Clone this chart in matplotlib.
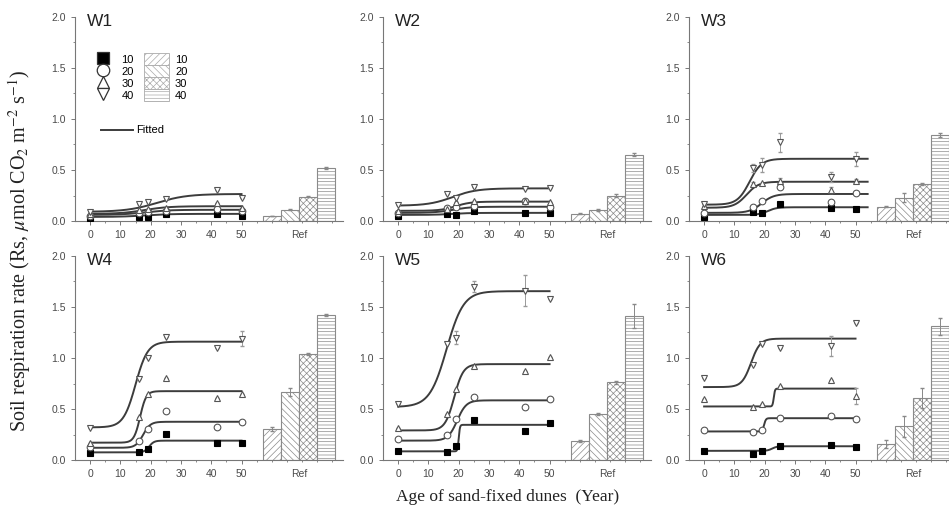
import matplotlib.pyplot as plt
import matplotlib.lines as mlines
import matplotlib.patches as mpatches
import numpy as np

# ages of the sand-fixed dunes (years) and soil depths (cm)
ages = [0, 16, 19, 25, 42, 50]
depths = ['10', '20', '30', '40']

# measured Rs per depth: rows are 10, 20, 30, 40 cm
w1_rs = [[0.03, 0.04, 0.04, 0.07, 0.07, 0.05],
         [0.05, 0.08, 0.09, 0.10, 0.12, 0.10],
         [0.07, 0.11, 0.12, 0.13, 0.18, 0.13],
         [0.09, 0.17, 0.19, 0.22, 0.30, 0.23]]
w2_rs = [[0.05, 0.07, 0.06, 0.10, 0.08, 0.08],
         [0.08, 0.13, 0.14, 0.15, 0.20, 0.14],
         [0.10, 0.12, 0.19, 0.20, 0.20, 0.19],
         [0.16, 0.26, 0.23, 0.33, 0.31, 0.32]]
w3_rs = [[0.04, 0.09, 0.08, 0.17, 0.13, 0.12],
         [0.08, 0.14, 0.20, 0.33, 0.19, 0.27],
         [0.15, 0.36, 0.37, 0.39, 0.30, 0.39],
         [0.17, 0.52, 0.55, 0.77, 0.43, 0.61]]
w4_rs = [[0.07, 0.08, 0.11, 0.26, 0.17, 0.17],
         [0.13, 0.19, 0.30, 0.48, 0.32, 0.37],
         [0.17, 0.42, 0.65, 0.80, 0.61, 0.65],
         [0.31, 0.79, 1.00, 1.21, 1.10, 1.19]]
w5_rs = [[0.09, 0.08, 0.14, 0.39, 0.28, 0.36],
         [0.21, 0.25, 0.40, 0.62, 0.52, 0.60],
         [0.31, 0.45, 0.70, 0.92, 0.87, 1.01],
         [0.55, 1.14, 1.20, 1.70, 1.66, 1.58]]
w6_rs = [[0.09, 0.06, 0.09, 0.14, 0.15, 0.13],
         [0.29, 0.27, 0.29, 0.41, 0.43, 0.40],
         [0.60, 0.52, 0.55, 0.73, 0.78, 0.63],
         [0.80, 0.93, 1.14, 1.10, 1.12, 1.34]]

# standard errors of the measured points
no_err = [0, 0, 0, 0, 0, 0]
w3_err = [no_err, no_err, [0, 0.02, 0, 0.03, 0.03, 0.02], [0, 0.04, 0.07, 0.09, 0.05, 0.07]]
w4_err = [no_err, no_err, no_err, [0, 0, 0, 0, 0, 0.07]]
w5_err = [no_err, no_err, no_err, [0, 0, 0.06, 0.05, 0.15, 0]]
w6_err = [no_err, no_err, [0, 0, 0, 0, 0, 0.08], [0, 0, 0, 0, 0.10, 0]]
zero_err = [no_err] * 4

# fitted sigmoid curves: [base, top, midpoint, width] per depth
w1_fit = [[0.04, 0.07, 18, 4], [0.06, 0.11, 18, 4], [0.07, 0.145, 18, 4], [0.09, 0.265, 22, 5]]
w2_fit = [[0.06, 0.08, 18, 3], [0.08, 0.14, 18, 3], [0.10, 0.19, 19, 2.5], [0.15, 0.32, 18, 4]]
w3_fit = [[0.06, 0.135, 21, 1.5], [0.08, 0.265, 19, 2], [0.13, 0.385, 14, 2], [0.16, 0.61, 15, 2]]
w4_fit = [[0.075, 0.19, 19.5, 0.8], [0.12, 0.375, 17.5, 1.2], [0.17, 0.675, 16.5, 1.0], [0.32, 1.16, 15, 2]]
w5_fit = [[0.085, 0.345, 20, 0.2], [0.19, 0.585, 19.5, 1.5], [0.29, 0.94, 18.5, 1.5], [0.52, 1.655, 16, 2.8]]
w6_fit = [[0.09, 0.135, 22.5, 0.8], [0.28, 0.41, 19.8, 0.3], [0.525, 0.70, 23, 0.2], [0.715, 1.19, 15.5, 1.5]]
fit_end = [50, 50, 54, 50, 50, 50]

# reference sites (bars) per depth and their errors
w1_ref = [0.05, 0.11, 0.24, 0.52]
w2_ref = [0.07, 0.11, 0.25, 0.65]
w3_ref = [0.14, 0.23, 0.36, 0.84]
w4_ref = [0.30, 0.67, 1.04, 1.42]
w5_ref = [0.19, 0.45, 0.76, 1.41]
w6_ref = [0.16, 0.33, 0.61, 1.31]
w1_ref_err = [0.003, 0.005, 0.005, 0.01]
w2_ref_err = [0.005, 0.01, 0.01, 0.015]
w3_ref_err = [0.005, 0.04, 0.01, 0.02]
w4_ref_err = [0.02, 0.04, 0.01, 0.01]
w5_ref_err = [0.01, 0.01, 0.01, 0.12]
w6_ref_err = [0.04, 0.10, 0.10, 0.08]

panels = [('W1', w1_rs, zero_err, w1_fit, w1_ref, w1_ref_err),
          ('W2', w2_rs, zero_err, w2_fit, w2_ref, w2_ref_err),
          ('W3', w3_rs, w3_err, w3_fit, w3_ref, w3_ref_err),
          ('W4', w4_rs, w4_err, w4_fit, w4_ref, w4_ref_err),
          ('W5', w5_rs, w5_err, w5_fit, w5_ref, w5_ref_err),
          ('W6', w6_rs, w6_err, w6_fit, w6_ref, w6_ref_err)]

markers = ['s', 'o', '^', 'v']
face = ['black', 'white', 'white', 'white']
hatches = ['/////', '\\\\\\\\\\', 'xxxxx', '-----']
bar_x = [60, 66, 72, 78]

plt.rcParams['hatch.linewidth'] = 0.5
plt.rcParams['font.family'] = 'Liberation Sans'
plt.rcParams['mathtext.fontset'] = 'stix'

fig = plt.figure(figsize=(9.49, 5.14), dpi=100)

lefts = [0.079, 0.4036, 0.726]
bottoms = [0.570, 0.105]
line_col = '#3c3c3c'
grey = '#777777'

for i, (name, rs, err, fit, ref, ref_err) in enumerate(panels):
    ax = fig.add_axes([lefts[i % 3], bottoms[i // 3], 0.2824, 0.397])

    for d in range(4):
        base, top, mid, width = fit[d]
        xx = np.linspace(0, fit_end[i], 400)
        yy = base + (top - base) / (1 + np.exp(-(xx - mid) / width))
        ax.plot(xx, yy, color=line_col, linewidth=1.4, zorder=2)

        ax.errorbar(ages, rs[d], yerr=err[d], fmt='none', ecolor='#999999',
                    elinewidth=0.7, capsize=1.2, zorder=3)
        ax.plot(ages, rs[d], linestyle='none', marker=markers[d], markersize=4.8,
                markerfacecolor=face[d], markeredgecolor='#555555' if d else 'black',
                markeredgewidth=0.8, zorder=4)

    for d in range(4):
        ax.bar(bar_x[d], ref[d], width=6, color='white', edgecolor='#8a8a8a',
               hatch=hatches[d], linewidth=0.8, zorder=2)
    ax.errorbar(bar_x, ref, yerr=ref_err, fmt='none', ecolor='#888888',
                elinewidth=0.7, capsize=1.2, zorder=3)

    ax.set_xlim(-5, 83.5)
    ax.set_ylim(0, 2.0)
    ax.set_xticks([0, 10, 20, 30, 40, 50, 69])
    ax.set_xticklabels(['0', '10', '20', '30', '40', '50', 'Ref'])
    ax.set_xticks(np.arange(5, 85, 5), minor=True)
    ax.set_yticks([0, 0.5, 1.0, 1.5, 2.0])
    ax.set_yticklabels(['0.0', '0.5', '1.0', '1.5', '2.0'])
    ax.set_yticks(np.arange(0.25, 2.0, 0.5), minor=True)
    ax.tick_params(which='major', direction='out', length=3, width=0.7,
                   colors=grey, labelsize=7.5, labelcolor='#4a4a4a')
    ax.tick_params(which='minor', direction='out', length=1.5, width=0.6, colors=grey)
    ax.xaxis.get_majorticklines()[-2].set_visible(False)
    for side in ['top', 'right']:
        ax.spines[side].set_visible(False)
    for side in ['left', 'bottom']:
        ax.spines[side].set_color(grey)
        ax.spines[side].set_linewidth(0.8)
    ax.patch.set_alpha(0)

    ax.text(0.045, 1.015, name, transform=ax.transAxes, fontsize=12.5,
            va='top', ha='left', color='#222222')

    if name == 'W1':
        mk = [mlines.Line2D([], [], linestyle='none', marker=markers[d], markersize=9,
                            markerfacecolor=face[d], markeredgecolor='#333333',
                            markeredgewidth=0.9) for d in range(4)]
        pt = [mpatches.Patch(facecolor='white', edgecolor='#aaaaaa', hatch=hatches[d],
                             linewidth=0.6) for d in range(4)]
        leg1 = ax.legend(mk + pt, depths + depths, ncol=2, loc='upper left',
                         bbox_to_anchor=(0.041, 0.845), frameon=False, fontsize=8,
                         handlelength=2.25, handleheight=1.26, labelspacing=0.02,
                         columnspacing=0.9, handletextpad=0.55, borderaxespad=0)
        ax.add_artist(leg1)
        fit_line = mlines.Line2D([], [], color=line_col, linewidth=1.4)
        ax.legend([fit_line], ['Fitted'], loc='upper left', bbox_to_anchor=(0.08, 0.49),
                  frameon=False, fontsize=8, handlelength=2.9, handletextpad=0.3,
                  borderaxespad=0)

fig.text(0.021, 0.512, 'Soil respiration rate (Rs, $\\mu$mol CO$_2$ m$^{-2}$ s$^{-1}$)',
         rotation=90, ha='center', va='center', fontsize=14.5,
         family='Liberation Serif', color='#222222')
fig.text(0.535, 0.033, 'Age of sand-fixed dunes  (Year)', ha='center', va='center',
         fontsize=12.5, family='Liberation Serif', color='#222222')

fig.savefig('out.png', dpi=100)
